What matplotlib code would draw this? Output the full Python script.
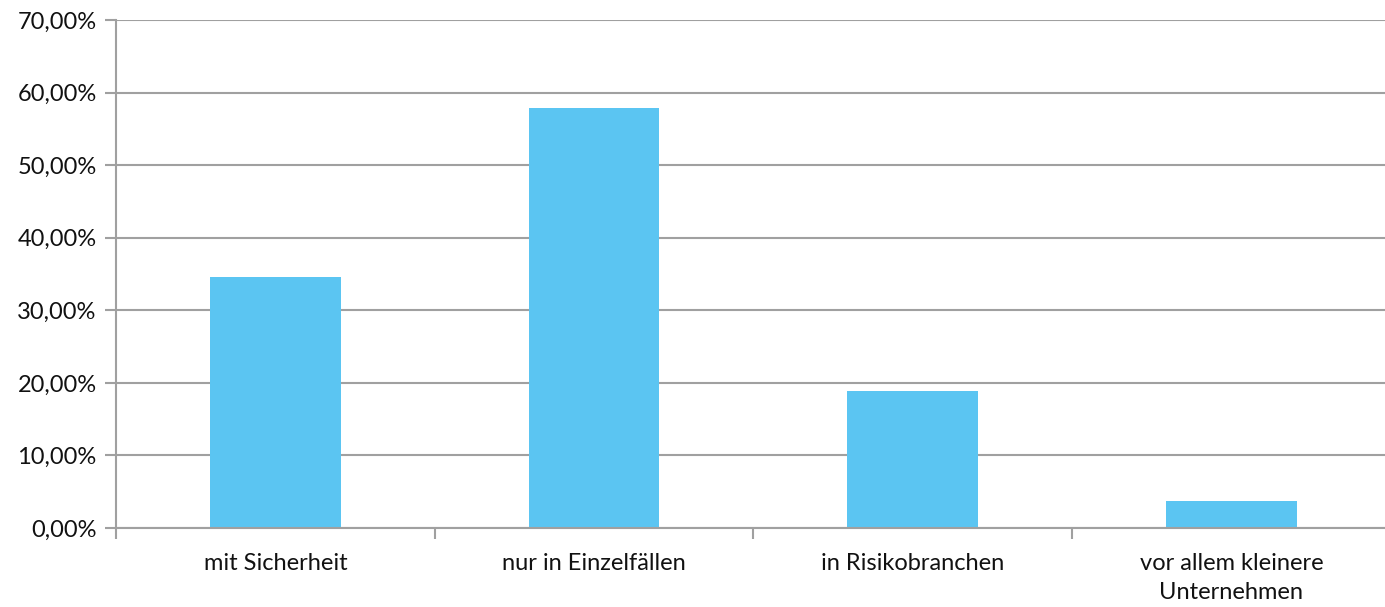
import numpy as np
import matplotlib
matplotlib.use('Agg')
import matplotlib.pyplot as plt
from matplotlib.ticker import FuncFormatter, FixedLocator

categories = ['mit Sicherheit', 'nur in Einzelfällen', 'in Risikobranchen',
              'vor allem kleinere\nUnternehmen']
values = [34.6, 57.9, 18.9, 3.7]
y_ticks = [0, 10, 20, 30, 40, 50, 60, 70]

plt.rcParams['font.family'] = ['Lato', 'DejaVu Sans']

bar_color = '#5bc5f2'
line_color = '#a0a0a0'

fig = plt.figure(figsize=(13.85, 6.07), dpi=100)
ax = fig.add_axes([116/1385, 1 - 528/607, 4*318.7/1385, 508/607])

x = np.arange(len(categories))
ax.bar(x, values, width=0.41, color=bar_color, zorder=3)

ax.set_xlim(-0.5, len(categories) - 0.5)
ax.set_ylim(0, 70)
ax.set_yticks(y_ticks)
ax.yaxis.set_major_formatter(FuncFormatter(lambda v, p: f'{v:.2f}%'.replace('.', ',')))
ax.grid(axis='y', color=line_color, lw=1.5, zorder=0)

# category boundaries get the tick marks, labels sit at the centers
ax.xaxis.set_major_locator(FixedLocator(np.arange(len(categories) + 1) - 0.5))
ax.xaxis.set_major_formatter(FuncFormatter(lambda v, p: ''))
ax.xaxis.set_minor_locator(FixedLocator(x))
ax.set_xticklabels(categories, minor=True, linespacing=1.45)
ax.tick_params(axis='x', which='major', length=8, width=1.5, color=line_color, direction='out')
ax.tick_params(axis='x', which='minor', length=0, pad=18, labelsize=17, labelcolor='#111111')
ax.tick_params(axis='y', length=8, width=1.5, color=line_color, pad=6, labelsize=17,
               labelcolor='#111111')

for side in ['top', 'right']:
    ax.spines[side].set_visible(False)
for side in ['left', 'bottom']:
    ax.spines[side].set_color(line_color)
    ax.spines[side].set_linewidth(1.5)
ax.spines['bottom'].set_zorder(4)

fig.savefig('out.png')
